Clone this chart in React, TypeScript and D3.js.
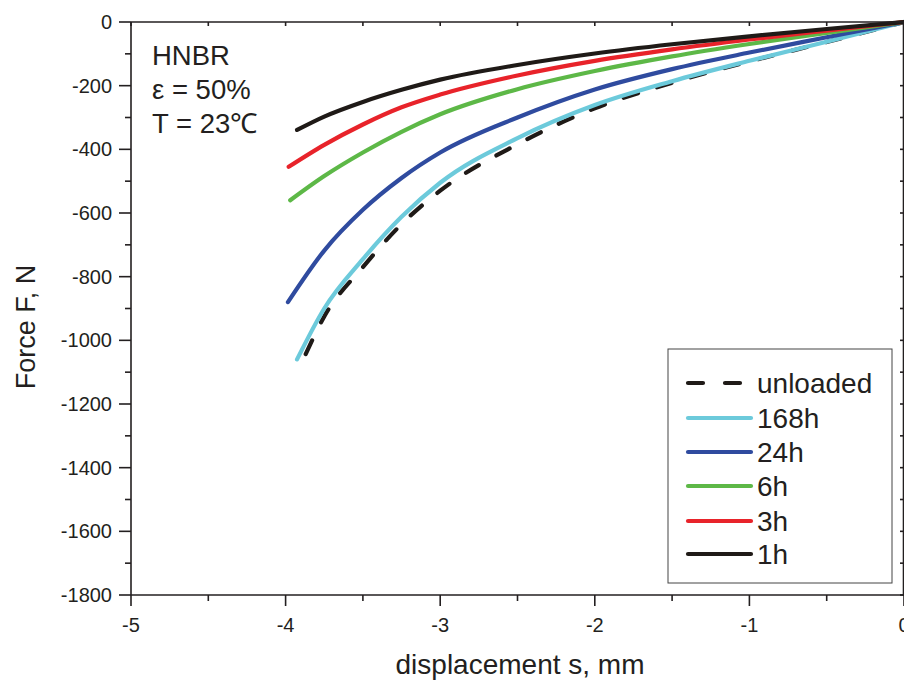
import React from "react";
import * as d3 from "d3";

// displacement s (mm) sample positions shared by all series
const displacement = [0, -0.5, -1, -1.5, -2, -2.5, -3, -3.25, -3.5, -3.75];
// Force F (N) per series at those positions
const forceUnloaded = [0, -63, -124, -191, -271, -384, -530, -635, -770, -925];
const force168h = [0, -62, -122, -186, -261, -365, -505, -612, -745, -900];
const force24h = [0, -48, -96, -148, -212, -300, -410, -490, -590, -718];
const force6h = [0, -34, -69, -108, -154, -211, -290, -345, -410, -484];
const force3h = [0, -27, -55, -86, -122, -168, -228, -268, -322, -386];
const force1h = [0, -22, -45, -70, -99, -135, -181, -213, -251, -297];
// last point of each curve
const endDisplacement = [-3.87, -3.926, -3.985, -3.97, -3.98, -3.926];
const endForce = [-1043, -1060, -880, -560, -455, -339];

const seriesNames = ["unloaded", "168h", "24h", "6h", "3h", "1h"];
const seriesColors = ["#1f1a17", "#6ccadb", "#2f4b9f", "#5db847", "#e8232a", "#1f1a17"];
const seriesForces = [forceUnloaded, force168h, force24h, force6h, force3h, force1h];

const xTicks = [-5, -4, -3, -2, -1, 0];
const xMinorTicks = [-4.5, -3.5, -2.5, -1.5, -0.5];
const yTicks = [0, -200, -400, -600, -800, -1000, -1200, -1400, -1600, -1800];
const yMinorTicks = [-100, -300, -500, -700, -900, -1100, -1300, -1500, -1700];

const annotation = ["HNBR", "ε = 50%", "T = 23℃"];

const W = 904;
const H = 682;
const left = 131;
const right = 904;
const top = 22;
const bottom = 595;
const FONT = "'Liberation Sans', Arial, Helvetica, sans-serif";
const AX = "#231f20";

export default function App() {
  const x = d3.scaleLinear().domain([-5, 0]).range([left, right]);
  const y = d3.scaleLinear().domain([0, -1800]).range([top, bottom]);
  const line = d3
    .line<[number, number]>()
    .x((d) => x(d[0]))
    .y((d) => y(d[1]))
    .curve(d3.curveMonotoneX);

  const series = seriesNames.map((name, i) => {
    const pts: [number, number][] = displacement.map((s, j) => [s, seriesForces[i][j]]);
    pts.push([endDisplacement[i], endForce[i]]);
    pts.sort((a, b) => a[0] - b[0]);
    return { name, color: seriesColors[i], pts, dashed: i === 0 };
  });

  const legX = 668;
  const legY = 349;
  const legW = 224;
  const legH = 234;
  const rowY = [383, 418, 452, 486, 521, 554];

  return (
    <svg
      width={W}
      height={H}
      style={{ position: "absolute", left: 0, top: 0, background: "#fff" }}
      fontFamily={FONT}
    >
      <rect x={0} y={0} width={W} height={H} fill="#fff" />
      {/* curves */}
      <g fill="none" strokeLinecap="round" strokeLinejoin="round">
        {series.map((s) => (
          <path
            key={s.name}
            d={line(s.pts) || ""}
            stroke={s.color}
            strokeWidth={4.2}
            strokeDasharray={s.dashed ? "15 20" : undefined}
          />
        ))}
      </g>

      {/* axes frame */}
      <g stroke={AX} strokeWidth={1.6}>
        <line x1={left} y1={top} x2={right} y2={top} />
        <line x1={left} y1={bottom} x2={right} y2={bottom} />
        <line x1={left} y1={top} x2={left} y2={bottom} />
        <line x1={right - 0.5} y1={top} x2={right - 0.5} y2={bottom} />
        {xTicks.map((t) => (
          <line key={"bx" + t} x1={x(t)} x2={x(t)} y1={bottom} y2={bottom + 11} />
        ))}
        {xMinorTicks.map((t) => (
          <line key={"bmx" + t} x1={x(t)} x2={x(t)} y1={bottom} y2={bottom + 6} />
        ))}
        {xTicks.concat(xMinorTicks).map((t) => (
          <line key={"tx" + t} x1={x(t)} x2={x(t)} y1={top} y2={top + 4} />
        ))}
        {yTicks.map((t) => (
          <line key={"ly" + t} x1={left - 12} x2={left} y1={y(t)} y2={y(t)} />
        ))}
        {yMinorTicks.map((t) => (
          <line key={"lmy" + t} x1={left - 6} x2={left} y1={y(t)} y2={y(t)} />
        ))}
        {yTicks.concat(yMinorTicks).map((t) => (
          <line key={"ry" + t} x1={right - 4} x2={right} y1={y(t)} y2={y(t)} />
        ))}
      </g>

      {/* tick labels */}
      <g fill={AX} fontSize={20}>
        {xTicks.map((t) => (
          <text key={"xl" + t} x={x(t)} y={632} textAnchor="middle">
            {t}
          </text>
        ))}
        {yTicks.map((t) => (
          <text key={"yl" + t} x={112} y={y(t) + 7} textAnchor="end">
            {t}
          </text>
        ))}
      </g>

      {/* axis titles */}
      <text x={520} y={674} textAnchor="middle" fontSize={28} fill={AX}>
        displacement s, mm
      </text>
      <text
        transform={`translate(35,327) rotate(-90)`}
        textAnchor="middle"
        fontSize={27}
        fill={AX}
      >
        Force F, N
      </text>

      {/* annotation */}
      <g fill={AX} fontSize={27.5}>
        {annotation.map((a, i) => (
          <text key={a} x={152} y={65 + i * 34}>
            {a}
          </text>
        ))}
      </g>

      {/* legend */}
      <rect x={legX} y={legY} width={legW} height={legH} fill="#fff" stroke="#444" strokeWidth={1} />
      {series.map((s, i) => (
        <g key={"leg" + s.name}>
          <line
            x1={688}
            x2={751}
            y1={rowY[i]}
            y2={rowY[i]}
            stroke={s.color}
            strokeWidth={4.2}
            strokeLinecap="round"
            strokeDasharray={s.dashed ? "15 22" : undefined}
          />
          <text x={757} y={rowY[i] + 10} fontSize={28} fill={AX}>
            {s.name}
          </text>
        </g>
      ))}
    </svg>
  );
}
